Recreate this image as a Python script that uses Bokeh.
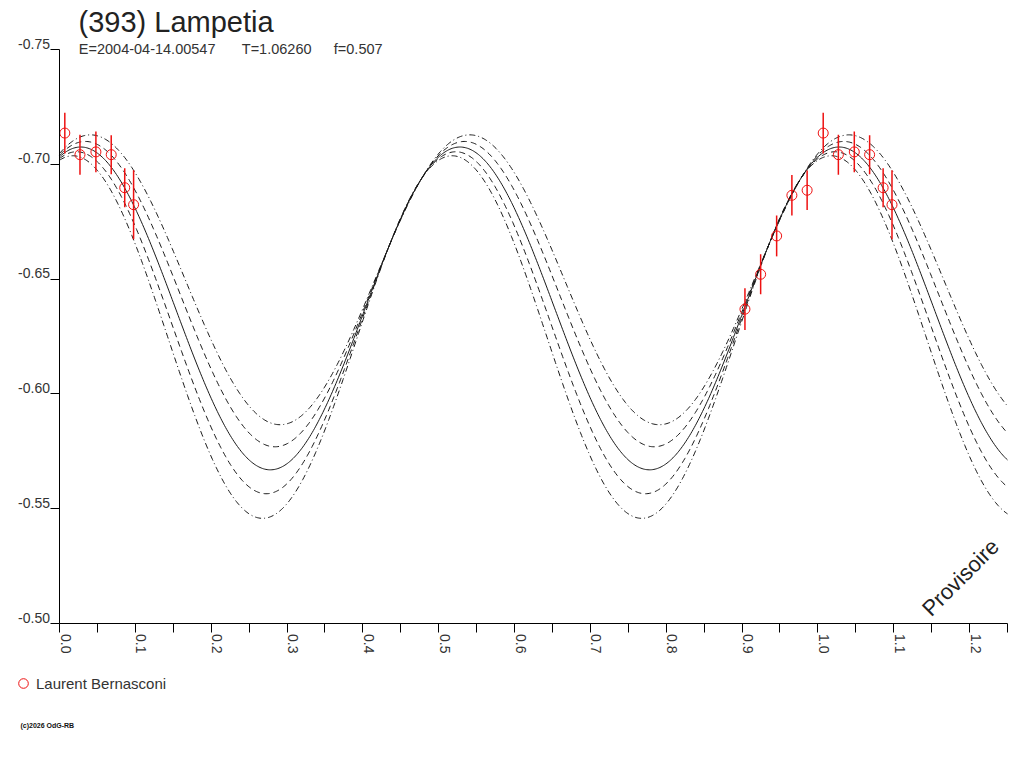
import math
import numpy as np
from bokeh.plotting import figure
from bokeh.models import (Range1d, FixedTicker, CustomJSTickFormatter, Label,
                          Legend, LegendItem)
from bokeh.embed import file_html
from bokeh.resources import INLINE

# ---------------- texts ----------------
title_text = "(393) Lampetia"
epoch_text = "E=2004-04-14.00547"
period_text = "T=1.06260"
fill_text = "f=0.507"
observer = "Laurent Bernasconi"
stamp_text = "(c)2026 OdG-RB"
watermark = "Provisoire"

# ---------------- observations (phase, reduced magnitude, error) ----------------
obs_phase = [0.9038, 0.9245, 0.9456, 0.9657, 0.9858,
             0.0070, 0.0270, 0.0480, 0.0682, 0.0860, 0.0977]
obs_mag = [-0.6369, -0.6521, -0.6688, -0.6865, -0.6887,
           -0.7136, -0.7042, -0.7054, -0.7042, -0.6898, -0.6824]
obs_err = [0.0091, 0.0087, 0.0089, 0.0088, 0.0086,
           0.0089, 0.0087, 0.0089, 0.0085, 0.0085, 0.0150]

# ---------------- Fourier fit curves (nominal and +/- envelopes) ----------------
fit_phase0 = 0.028
curve_mean = [-0.64970, -0.64346, -0.63723, -0.63099, -0.62476]
curve_cos = [-0.0623, -0.0663, -0.0703, -0.0743, -0.0783]
curve_sin = [-0.01017, -0.00508, 0.0, 0.00508, 0.01017]
curve_dash = ["6 3 1 3", "6 4", "solid", "6 4", "6 3 1 3"]

# ---------------- axes ----------------
x_ticks = [0.0, 0.1, 0.2, 0.3, 0.4, 0.5, 0.6, 0.7, 0.8, 0.9, 1.0, 1.1, 1.2]
x_tick_labels = ["0.0", "0.1", "0.2", "0.3", "0.4", "0.5", "0.6", "0.7",
                 "0.8", "0.9", "1.0", "1.1", "1.2"]
x_minor = [0.05, 0.15, 0.25, 0.35, 0.45, 0.55, 0.65, 0.75, 0.85, 0.95,
           1.05, 1.15, 1.25]
y_ticks = [-0.75, -0.70, -0.65, -0.60, -0.55, -0.50]
y_tick_labels = ["-0.75", "-0.70", "-0.65", "-0.60", "-0.55", "-0.50"]
X_MIN, X_MAX = 0.0, 1.25
Y_TOP, Y_BOTTOM = -0.75, -0.50

FONT = "Liberation Sans"

# canvas geometry (pixels): the axes box occupies x 59..1007, y 49..623
W, H = 1016, 760
AX_L, AX_R, AX_T, AX_B = 59, 1007, 49, 623
SX = (X_MAX - X_MIN) / (AX_R - AX_L)
SY = (Y_BOTTOM - Y_TOP) / (AX_B - AX_T)


def px_x(px):
    return X_MIN + (px - AX_L) * SX


def py_y(py):
    return Y_TOP + (py - AX_T) * SY


p = figure(width=W, height=H, output_backend="svg", toolbar_location=None,
           tools="", x_range=Range1d(px_x(0), px_x(W)),
           y_range=Range1d(py_y(H), py_y(0)),
           min_border_left=0, min_border_top=0,
           min_border_right=0, min_border_bottom=0)
p.outline_line_color = None
p.xgrid.visible = False
p.ygrid.visible = False
p.background_fill_color = "white"
p.border_fill_color = "white"

# model curves
phase_grid = np.linspace(X_MIN, X_MAX, 800)
theta = 4 * math.pi * (phase_grid - fit_phase0)
for m, c, s, d in zip(curve_mean, curve_cos, curve_sin, curve_dash):
    yy = m + c * np.cos(theta) + s * np.sin(theta)
    p.line(phase_grid, yy, line_color="#1a1a1a", line_width=1, line_dash=d)

# observations, repeated one cycle later when within the axis
px_list, pm_list, pe_list = [], [], []
for ph, mg, er in zip(obs_phase, obs_mag, obs_err):
    for shift in (0.0, 1.0):
        if X_MIN <= ph + shift <= X_MAX:
            px_list.append(ph + shift)
            pm_list.append(mg)
            pe_list.append(er)
px_arr = np.array(px_list)
pm_arr = np.array(pm_list)
pe_arr = np.array(pe_list)

p.segment(x0=px_arr, y0=pm_arr - pe_arr, x1=px_arr, y1=pm_arr + pe_arr,
          line_color="#ee1111", line_width=1.5)
pts = p.scatter(px_arr, pm_arr, marker="circle", size=10, fill_color=None,
                line_color="#ee1111", line_width=1)

# axes (pinned to the box edges); their labels are placed as texts below
xa = p.xaxis[0]
ya = p.yaxis[0]
xa.fixed_location = Y_BOTTOM
ya.fixed_location = X_MIN
xa.bounds = (X_MIN, X_MAX)
ya.bounds = (Y_TOP, Y_BOTTOM)
for ax in (xa, ya):
    ax.axis_line_color = "black"
    ax.axis_line_width = 1
    ax.major_tick_line_color = "black"
    ax.minor_tick_line_color = "black"
    ax.major_tick_in = 0
    ax.major_tick_out = 9
    ax.formatter = CustomJSTickFormatter(code="return '';")

xa.ticker = FixedTicker(ticks=x_ticks, minor_ticks=x_minor)
xa.minor_tick_in = 0
xa.minor_tick_out = 9
ya.ticker = FixedTicker(ticks=y_ticks, minor_ticks=[])
ya.minor_tick_out = 0

for t, lab in zip(y_ticks, y_tick_labels):
    p.add_layout(Label(x=px_x(AX_L - 9.5), y=t - 6 * SY, text=lab,
                       text_font=FONT, text_font_size="14px",
                       text_color="#333333", text_align="right",
                       text_baseline="middle"))
for t, lab in zip(x_ticks, x_tick_labels):
    p.add_layout(Label(x=t + 6.0 * SX, y=py_y(AX_B + 10.5), text=lab,
                       angle=-math.pi / 2,
                       text_font=FONT, text_font_size="14px",
                       text_color="#333333", text_align="left",
                       text_baseline="middle"))

# texts
p.add_layout(Label(x=px_x(78), y=py_y(21), text=title_text,
                   text_font=FONT, text_font_size="29px", text_color="#222222",
                   text_baseline="middle", text_align="left"))
for txt, xpx in ((epoch_text, 78.3), (period_text, 241.3), (fill_text, 333.3)):
    p.add_layout(Label(x=px_x(xpx), y=py_y(48.5), text=txt,
                       text_font=FONT, text_font_size="14.5px",
                       text_color="#333333",
                       text_baseline="middle", text_align="left"))
p.add_layout(Label(x=px_x(960), y=py_y(577), text=watermark, angle=math.pi / 4,
                   text_font=FONT, text_font_size="22px", text_color="#222222",
                   text_baseline="middle", text_align="center"))
p.add_layout(Label(x=px_x(20), y=py_y(725), text=stamp_text,
                   text_font=FONT, text_font_size="7px", text_color="#111111",
                   text_font_style="bold",
                   text_baseline="middle", text_align="left"))

legend = Legend(items=[LegendItem(label=observer, renderers=[pts])],
                location=(11, H - 695), padding=0, margin=0, spacing=0,
                border_line_color=None, background_fill_alpha=0,
                glyph_width=24, glyph_height=24, label_standoff=1,
                label_text_font=FONT, label_text_font_size="15px",
                label_text_color="#333333")
p.add_layout(legend)

open("out.html", "w").write(file_html(p, INLINE))
